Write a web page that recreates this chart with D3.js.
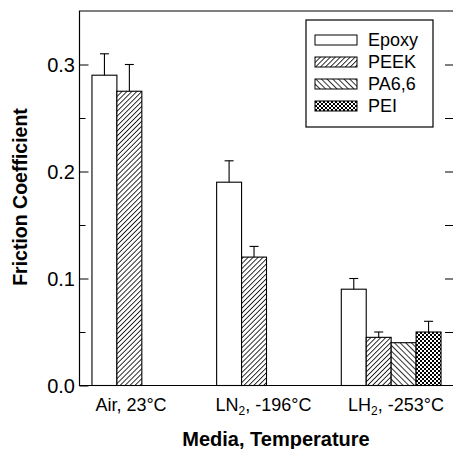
<!DOCTYPE html>
<html>
<head>
<meta charset="utf-8">
<script src="https://cdn.jsdelivr.net/npm/d3@7"></script>
<style>
  body { margin: 0; background: #fff; }
  svg { display: block; font-family: "Liberation Sans", Arial, sans-serif; }
</style>
</head>
<body>
<svg id="chart" width="453" height="449"></svg>
<script>
// media / temperature groups, "_2" marks a subscript 2
var groups = ["Air, 23°C", "LN_2, -196°C", "LH_2, -253°C"],
    materials = ["Epoxy", "PEEK", "PA6,6", "PEI"];

// friction coefficient per group (null = not tested)
var epoxy = [0.29, 0.19, 0.09],
    peek  = [0.275, 0.12, 0.045],
    pa66  = [null, null, 0.04],
    pei   = [null, null, 0.05];
// error bar tops (upper limit)
var epoxyErr = [0.31, 0.21, 0.10],
    peekErr  = [0.30, 0.13, 0.05],
    pa66Err  = [null, null, null],
    peiErr   = [null, null, 0.06];

var yMajor = [0.0, 0.1, 0.2, 0.3],
    yMinor = [0.05, 0.15, 0.25],
    yRight = [0.05, 0.1, 0.15, 0.2, 0.25, 0.3];

var vals = { "Epoxy": epoxy, "PEEK": peek, "PA6,6": pa66, "PEI": pei },
    errs = { "Epoxy": epoxyErr, "PEEK": peekErr, "PA6,6": pa66Err, "PEI": peiErr };

var svg = d3.select("#chart"),
    pLeft = 79.5, pRight = 454, pTop = 11, pBottom = 385.5;

var x = d3.scaleBand().domain(groups).range([pLeft, 453.5]).paddingInner(0.2).paddingOuter(0.1);
var xIn = d3.scaleBand().domain(materials).range([0, x.bandwidth()]);
var y = d3.scaleLinear().domain([0, 0.35]).range([pBottom, pTop]);
// tick labels sit a bit off the group centres in the original
var xLab = d3.scalePoint().domain(groups).range([131, 396]);

// patterns
var defs = svg.append("defs");
var p1 = defs.append("pattern").attr("id", "peek").attr("patternUnits", "userSpaceOnUse")
    .attr("width", 3.5).attr("height", 3.5).attr("patternTransform", "rotate(45)");
p1.append("rect").attr("width", 3.5).attr("height", 3.5).attr("fill", "#fff");
p1.append("line").attr("x1", 0).attr("y1", 0).attr("x2", 0).attr("y2", 3.5)
    .attr("stroke", "#000").attr("stroke-width", 1.6);
var p2 = defs.append("pattern").attr("id", "pa66").attr("patternUnits", "userSpaceOnUse")
    .attr("width", 4).attr("height", 4).attr("patternTransform", "rotate(-45)");
p2.append("rect").attr("width", 4).attr("height", 4).attr("fill", "#fff");
p2.append("line").attr("x1", 0).attr("y1", 0).attr("x2", 0).attr("y2", 4)
    .attr("stroke", "#000").attr("stroke-width", 1.6);
var p3 = defs.append("pattern").attr("id", "pei").attr("patternUnits", "userSpaceOnUse")
    .attr("width", 4).attr("height", 4);
p3.append("rect").attr("width", 4).attr("height", 4).attr("fill", "#fff");
p3.append("rect").attr("width", 2).attr("height", 2).attr("fill", "#000");
p3.append("rect").attr("x", 2).attr("y", 2).attr("width", 2).attr("height", 2).attr("fill", "#000");

var fills = { "Epoxy": "#fff", "PEEK": "url(#peek)", "PA6,6": "url(#pa66)", "PEI": "url(#pei)" };

// frame
svg.append("path")
    .attr("d", "M" + pLeft + "," + pBottom + "V" + pTop + "H" + pRight + "V" + pBottom + "Z")
    .attr("fill", "none").attr("stroke", "#000").attr("stroke-width", 1.2);

// bars
var rows = [];
groups.forEach(function(g, i) {
    materials.forEach(function(m) {
        if (vals[m][i] != null) rows.push({ g: g, m: m, v: vals[m][i], e: errs[m][i] });
    });
});

svg.selectAll(".bar")
    .data(rows)
    .enter()
    .append("rect")
    .attr("class", "bar")
    .attr("x", function(d) { return x(d.g) + xIn(d.m); })
    .attr("y", function(d) { return y(d.v); })
    .attr("width", xIn.bandwidth())
    .attr("height", function(d) { return y(0) - y(d.v); })
    .attr("fill", function(d) { return fills[d.m]; })
    .attr("stroke", "#000")
    .attr("stroke-width", 1.1);

// error bars
var eb = svg.selectAll(".err")
    .data(rows.filter(function(d) { return d.e != null; }))
    .enter()
    .append("g")
    .attr("class", "err")
    .attr("stroke", "#000")
    .attr("stroke-width", 1.1);
eb.append("line")
    .attr("x1", function(d) { return x(d.g) + xIn(d.m) + xIn.bandwidth() / 2; })
    .attr("x2", function(d) { return x(d.g) + xIn(d.m) + xIn.bandwidth() / 2; })
    .attr("y1", function(d) { return y(d.v); })
    .attr("y2", function(d) { return y(d.e); });
eb.append("line")
    .attr("x1", function(d) { return x(d.g) + xIn(d.m) + xIn.bandwidth() / 2 - 4.5; })
    .attr("x2", function(d) { return x(d.g) + xIn(d.m) + xIn.bandwidth() / 2 + 4.5; })
    .attr("y1", function(d) { return y(d.e); })
    .attr("y2", function(d) { return y(d.e); });

// y axis, ticks pointing inward
var yAx = svg.append("g").attr("transform", "translate(" + pLeft + ",0)")
    .call(d3.axisRight(y).tickValues(yMajor).tickSize(9).tickFormat(""));
yAx.select(".domain").remove();
var yMin = svg.append("g").attr("transform", "translate(" + pLeft + ",0)")
    .call(d3.axisRight(y).tickValues(yMinor).tickSize(6).tickFormat(""));
yMin.select(".domain").remove();
var yR = svg.append("g").attr("transform", "translate(" + pRight + ",0)")
    .call(d3.axisLeft(y).tickValues(yRight).tickSize(9).tickFormat(""));
yR.select(".domain").remove();

svg.selectAll(".ylab")
    .data(yMajor)
    .enter()
    .append("text")
    .attr("class", "ylab")
    .attr("x", 75)
    .attr("y", function(d) { return y(d); })
    .attr("dy", "0.36em")
    .attr("text-anchor", "end")
    .attr("font-size", 20)
    .text(function(d) { return d3.format(".1f")(d); });

// x category labels with subscripts
var xl = svg.selectAll(".xlab")
    .data(groups)
    .enter()
    .append("text")
    .attr("class", "xlab")
    .attr("x", function(d) { return xLab(d); })
    .attr("y", 411)
    .attr("text-anchor", "middle")
    .attr("font-size", 18);
xl.each(function(d) {
    var t = d3.select(this), parts = d.split("_2");
    t.append("tspan").text(parts[0]);
    if (parts.length > 1) {
        t.append("tspan").attr("font-size", 12).attr("dy", 4).text("2");
        t.append("tspan").attr("dy", -4).text(parts[1]);
    }
});

// axis titles
svg.append("text")
    .attr("x", 276).attr("y", 446)
    .attr("text-anchor", "middle")
    .attr("font-size", 20).attr("font-weight", "bold")
    .text("Media, Temperature");
svg.append("text")
    .attr("transform", "translate(27,197) rotate(-90)")
    .attr("text-anchor", "middle")
    .attr("font-size", 19.5).attr("font-weight", "bold")
    .text("Friction Coefficient");

// legend
var lg = svg.append("g").attr("transform", "translate(306,20)");
lg.append("rect").attr("width", 127).attr("height", 107)
    .attr("fill", "#fff").attr("stroke", "#000").attr("stroke-width", 1.2);
var item = lg.selectAll(".item")
    .data(materials)
    .enter()
    .append("g")
    .attr("class", "item")
    .attr("transform", function(d, i) { return "translate(9," + (15 + i * 22) + ")"; });
item.append("rect")
    .attr("width", 42).attr("height", 10)
    .attr("fill", function(d) { return fills[d]; })
    .attr("stroke", "#000").attr("stroke-width", 1);
item.append("text")
    .attr("x", 53).attr("y", 5).attr("dy", "0.36em")
    .attr("font-size", 18)
    .text(function(d) { return d; });
</script>
</body>
</html>
